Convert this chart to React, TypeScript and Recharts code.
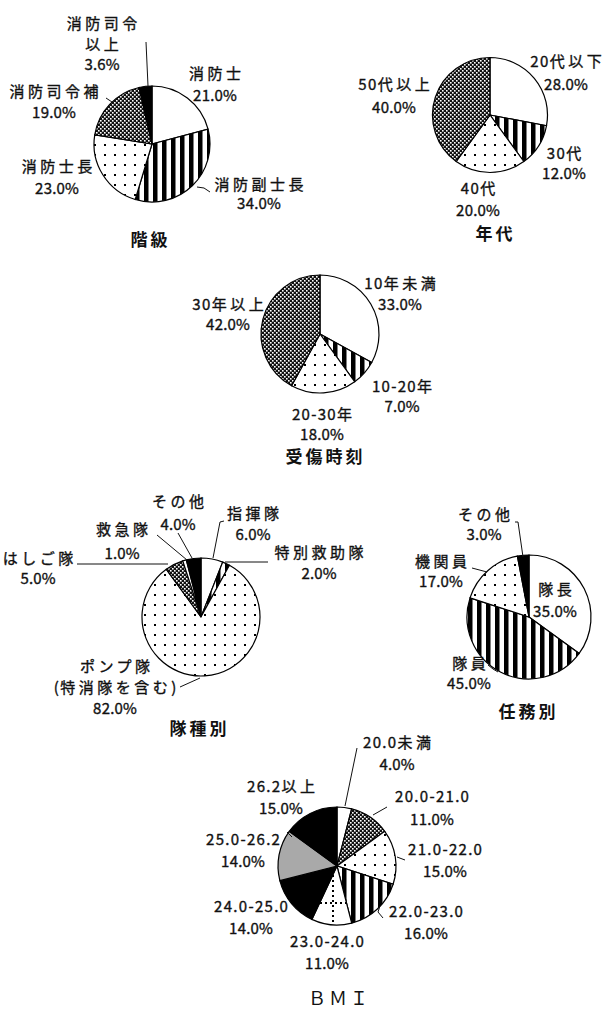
import React from 'react';
import { PieChart, Pie, Cell } from 'recharts';

// ---- data ----
const rankNames = ['消防士', '消防副士長', '消防士長', '消防司令補', '消防司令\n以上'];
const rankValues = [21.0, 34.0, 23.0, 19.0, 3.6];

const ageNames = ['20代以下', '30代', '40代', '50代以上'];
const ageValues = [28.0, 12.0, 20.0, 40.0];

const tenureNames = ['10年未満', '10-20年', '20-30年', '30年以上'];
const tenureValues = [33.0, 7.0, 18.0, 42.0];

const unitNames = ['指揮隊', '特別救助隊', 'ポンプ隊\n(特消隊を含む)', 'はしご隊', '救急隊', 'その他'];
const unitValues = [6.0, 2.0, 82.0, 5.0, 1.0, 4.0];

const dutyNames = ['隊長', '隊員', '機関員', 'その他'];
const dutyValues = [35.0, 45.0, 17.0, 3.0];

const bmiNames = ['20.0未満', '20.0-21.0', '21.0-22.0', '22.0-23.0', '23.0-24.0', '24.0-25.0', '25.0-26.2', '26.2以上'];
const bmiValues = [4.0, 11.0, 15.0, 16.0, 11.0, 14.0, 14.0, 15.0];

const titles = ['階級', '年代', '受傷時刻', '隊種別', '任務別', 'ＢＭＩ'];

// ---- styles ----
const W = '#ffffff';
const K = '#000000';
const ST = 'url(#pStripe)';
const DT = 'url(#pDot)';
const CR = 'url(#pCross)';
const GR = 'url(#pGrid)';
const GY = '#a9a9a9';

const rankFills = [W, ST, DT, CR, K];
const ageFills = [W, ST, DT, CR];
const tenureFills = [W, ST, DT, CR];
const unitFills = [W, ST, DT, CR, W, K];
const dutyFills = [W, ST, DT, K];
const bmiFills = [W, CR, DT, ST, GR, K, GY, K];

type Lbl = { dx: number; dy: number; lh: number; line?: number[][] };

// label placement relative to each pie's centre
const rankLayout: Lbl[] = [
  { dx: 63, dy: -72, lh: 22 },
  { dx: 107, dy: 39, lh: 19, line: [[45, 43], [52, 44], [58, 48]] },
  { dx: -95, dy: 21, lh: 22 },
  { dx: -98, dy: -54, lh: 21, line: [[-46, -46], [-40, -42]] },
  { dx: -50, dy: -122, lh: 20.5, line: [[-6, -102], [-4, -58]] },
];
const ageLayout: Lbl[] = [
  { dx: 76, dy: -55, lh: 23 },
  { dx: 74, dy: 37, lh: 20 },
  { dx: -12, dy: 72, lh: 22 },
  { dx: -96, dy: -32, lh: 23 },
];
const tenureLayout: Lbl[] = [
  { dx: 80, dy: -52, lh: 21 },
  { dx: 82, dy: 51, lh: 20 },
  { dx: 2, dy: 79, lh: 20 },
  { dx: -92, dy: -31, lh: 20 },
];
const unitLayout: Lbl[] = [
  { dx: 52, dy: -105, lh: 21, line: [[23, -96], [19, -95], [12, -59]] },
  { dx: 118, dy: -66, lh: 21, line: [[24, -55], [67, -55]] },
  { dx: -86, dy: 48, lh: 21, line: [[-21, 70], [-1, 61]] },
  { dx: -163, dy: -60, lh: 20, line: [[-124, -53], [-33, -53]] },
  { dx: -79, dy: -89, lh: 24, line: [[-44, -82], [-14, -57]] },
  { dx: -23, dy: -117, lh: 23, line: [[-23, -84], [-9, -59]] },
];
const dutyLayout: Lbl[] = [
  { dx: 26, dy: -29, lh: 22 },
  { dx: -60, dy: 45, lh: 20, line: [[-41, 48], [-36, 52], [-31, 55]] },
  { dx: -88, dy: -57, lh: 20, line: [[-57, -49], [-42, -45]] },
  { dx: -45, dy: -104, lh: 20, line: [[-14, -95], [-11, -95], [-6, -60]] },
];
const bmiLayout: Lbl[] = [
  { dx: 60, dy: -125, lh: 22, line: [[20, -118], [8, -60]] },
  { dx: 95, dy: -71, lh: 23, line: [[50, -59], [36, -51]] },
  { dx: 108, dy: -18, lh: 22, line: [[60, -9], [68, -6]] },
  { dx: 89, dy: 44, lh: 22, line: [[43, 40], [41, 46], [46, 52]] },
  { dx: -10, dy: 74, lh: 22 },
  { dx: -86, dy: 39, lh: 22 },
  { dx: -94, dy: -28, lh: 22, line: [[-50, -34], [-45, -29]] },
  { dx: -56, dy: -81, lh: 22 },
];

const pies = [
  { id: 'rank', names: rankNames, values: rankValues, fills: rankFills, layout: rankLayout, cx: 152, cy: 144, r: 58, tx: 149, ty: 238 },
  { id: 'age', names: ageNames, values: ageValues, fills: ageFills, layout: ageLayout, cx: 490, cy: 115, r: 57.5, tx: 494, ty: 232 },
  { id: 'tenure', names: tenureNames, values: tenureValues, fills: tenureFills, layout: tenureLayout, cx: 320, cy: 334, r: 59, tx: 324, ty: 455 },
  { id: 'unit', names: unitNames, values: unitValues, fills: unitFills, layout: unitLayout, cx: 201, cy: 617, r: 59, tx: 198, ty: 727 },
  { id: 'duty', names: dutyNames, values: dutyValues, fills: dutyFills, layout: dutyLayout, cx: 529, cy: 617, r: 62, tx: 527, ty: 710 },
  { id: 'bmi', names: bmiNames, values: bmiValues, fills: bmiFills, layout: bmiLayout, cx: 337, cy: 866, r: 59, tx: 338, ty: 997 },
];

const FONT = '"Noto Sans CJK JP", "Noto Sans", sans-serif';

function runs(s: string) {
  const isPct = /%$/.test(s);
  const parts = s.match(/([\x00-\x7F]+|[^\x00-\x7F]+)/g) || [];
  return parts.map((t) => ({ t, ls: /[^\x00-\x7F]/.test(t) ? 3.5 : isPct ? 0.2 : 1.3 }));
}

function makeLabel(p: (typeof pies)[number]) {
  return (props: any) => {
    const i: number = props.index;
    const L = p.layout[i];
    if (!L) return null;
    const lines = [...p.names[i].split('\n'), `${p.values[i].toFixed(1)}%`];
    const x = p.cx + L.dx;
    const y0 = p.cy + L.dy;
    return (
      <g key={`lbl-${p.id}-${i}`}>
        {L.line && (
          <polyline
            points={L.line.map(([a, b]) => `${p.cx + a},${p.cy + b}`).join(' ')}
            fill="none"
            stroke="#111"
            strokeWidth={1}
          />
        )}
        {lines.map((s, k) => {
          const rs = runs(s);
          const last = rs.length ? rs[rs.length - 1].ls : 0;
          return (
            <text
              key={k}
              x={x + last / 2}
              y={y0 + k * L.lh}
              textAnchor="middle"
              dominantBaseline="central"
              fontFamily={FONT}
              fontSize={15}
              fill="#111"
              stroke="#111"
              strokeWidth={0.35}
            >
              {rs.map((r, j) => (
                <tspan key={j} letterSpacing={r.ls}>
                  {r.t}
                </tspan>
              ))}
            </text>
          );
        })}
      </g>
    );
  };
}

export default function App() {
  return (
    <div style={{ position: 'absolute', left: 0, top: 0, width: 605, height: 1009, background: '#fff' }}>
      <PieChart width={605} height={1009} margin={{ top: 0, right: 0, bottom: 0, left: 0 }}>
        <defs>
          <pattern id="pStripe" patternUnits="userSpaceOnUse" width={9} height={9}>
            <rect x={0} y={0} width={9} height={9} fill="#fff" />
            <rect x={0} y={0} width={4.5} height={9} fill="#000" />
          </pattern>
          <pattern id="pDot" patternUnits="userSpaceOnUse" width={10} height={10}>
            <rect x={0} y={0} width={10} height={10} fill="#fff" />
            <rect x={4} y={4} width={2} height={2} fill="#000" />
          </pattern>
          <pattern id="pCross" patternUnits="userSpaceOnUse" width={4} height={4}>
            <rect x={0} y={0} width={4} height={4} fill="#111" />
            <rect x={0} y={0} width={1.6} height={1.6} fill="#fff" />
            <rect x={2} y={2} width={1.6} height={1.6} fill="#fff" />
          </pattern>
          <pattern id="pGrid" patternUnits="userSpaceOnUse" width={40} height={40}>
            <rect x={0} y={0} width={40} height={40} fill="#fff" />
            <line x1={13} y1={0} x2={13} y2={40} stroke="#000" strokeWidth={2} strokeDasharray="2 3" />
            <line x1={0} y1={23} x2={40} y2={23} stroke="#000" strokeWidth={2} strokeDasharray="2 3" />
          </pattern>
        </defs>
        {pies.map((p) => (
          <Pie
            key={p.id}
            data={p.names.map((n, i) => ({ name: n, value: p.values[i] }))}
            dataKey="value"
            nameKey="name"
            cx={p.cx}
            cy={p.cy}
            outerRadius={p.r}
            innerRadius={0}
            startAngle={90}
            endAngle={-270}
            stroke="#000"
            strokeWidth={1.2}
            isAnimationActive={false}
            label={makeLabel(p)}
            labelLine={false}
          >
            {p.fills.map((f, i) => (
              <Cell key={i} fill={f} stroke="#000" />
            ))}
          </Pie>
        ))}
        {pies.map((p, i) => (
          <text
            key={`t-${p.id}`}
            x={p.tx + 1.5}
            y={p.ty}
            textAnchor="middle"
            dominantBaseline="central"
            fontFamily={FONT}
            fontWeight={i === 5 ? 400 : 700}
            fontSize={i === 5 ? 18 : 17}
            letterSpacing={3}
            fill="#111"
          >
            {titles[i]}
          </text>
        ))}
      </PieChart>
    </div>
  );
}
